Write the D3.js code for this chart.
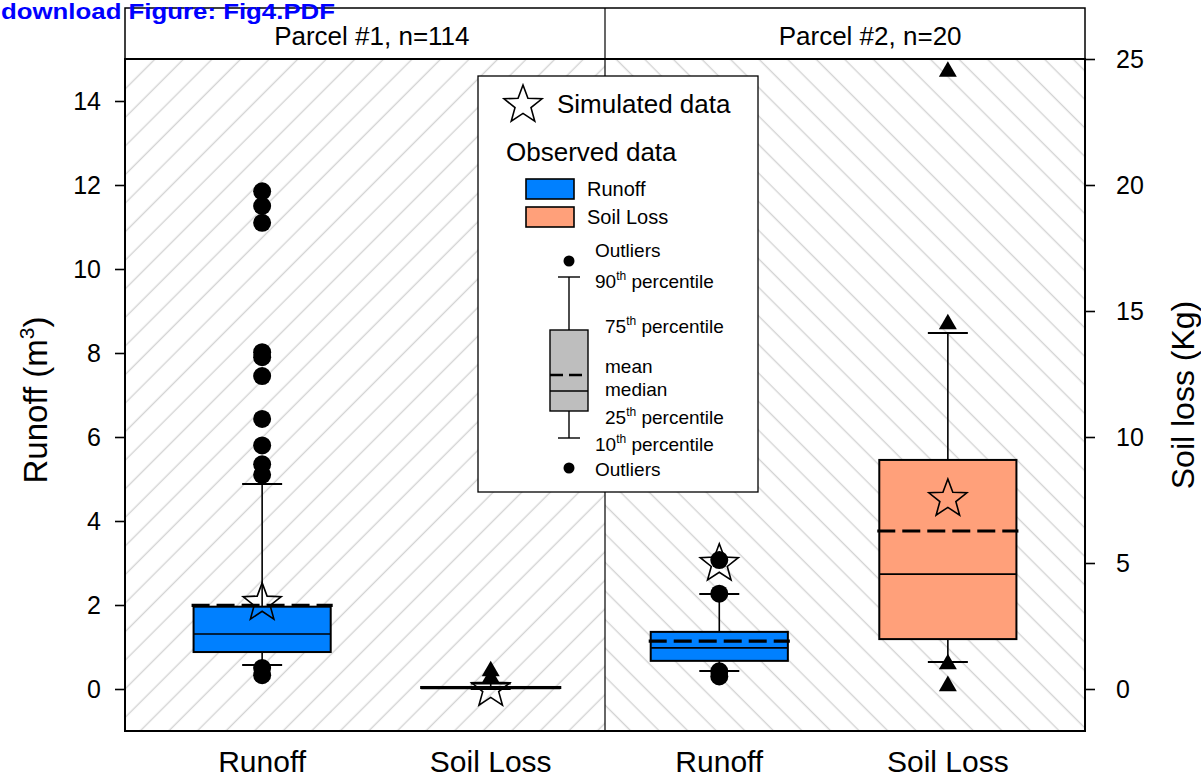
<!DOCTYPE html>
<html>
<head>
<meta charset="utf-8">
<script src="https://cdn.jsdelivr.net/npm/d3@7"></script>
<style>
  body { margin: 0; background: #fff; }
  svg { display: block; }
  text { font-family: "Liberation Sans", Arial, Helvetica, sans-serif; }
</style>
</head>
<body>
<svg id="chart" width="1201" height="778"></svg>
<script>
// ---- data -------------------------------------------------------------
const panelTitles = ["Parcel #1, n=114", "Parcel #2, n=20"];
const categories  = ["Runoff", "Soil Loss", "Runoff", "Soil Loss"];
const groupPanel  = [0, 0, 1, 1];
const groupAxis   = ["left", "right", "left", "right"];   // runoff: m3, soil loss: kg
const groupColors = ["#0080ff", "#ffa07a", "#0080ff", "#ffa07a"];
const groupMarker = ["circle", "triangle", "circle", "triangle"];

const p10     = [0.57, 0.00, 0.43, 1.07];
const q25     = [0.88, 0.03, 0.67, 1.98];
const median  = [1.31, 0.05, 0.98, 4.56];
const mean    = [1.99, 0.06, 1.14, 6.27];
const q75     = [1.96, 0.08, 1.36, 9.09];
const p90     = [4.88, 0.22, 2.26, 14.13];
const simulated = [2.05, 0.0, 2.98, 7.54];
const outliers = [
  [11.85, 11.5, 11.1, 8.02, 7.9, 7.45, 6.43, 5.8, 5.35, 5.1, 0.5, 0.33],
  [0.71, 0.44],
  [3.07, 2.27, 0.42, 0.3],
  [24.5, 14.48, 0.99, 0.12]
];

const leftTicks  = [0, 2, 4, 6, 8, 10, 12, 14];
const rightTicks = [0, 5, 10, 15, 20, 25];

const legendFill = ["Runoff", "Soil Loss"];
const legendBoxLabels = [
  { text: "Outliers", sup: null },
  { text: "90", sup: "th", rest: " percentile" },
  { text: "75", sup: "th", rest: " percentile" },
  { text: "mean", sup: null },
  { text: "median", sup: null },
  { text: "25", sup: "th", rest: " percentile" },
  { text: "10", sup: "th", rest: " percentile" },
  { text: "Outliers", sup: null }
];

// ---- layout -----------------------------------------------------------
const svg = d3.select("#chart");
const plot = { left: 125, right: 1085, top: 59, bottom: 731, stripTop: 8 };

const x  = d3.scaleLinear().domain([0, 4.2]).range([plot.left, plot.right]);
const xPos = [0.6, 1.6, 2.6, 3.6];
const boxW = x(0.6) - x(0);
const capW = 40;
const yL = d3.scaleLinear().domain([-1, 15]).range([plot.bottom, plot.top]);
const yR = d3.scaleLinear().domain([-5 / 3, 25]).range([plot.bottom, plot.top]);
const yOf = i => groupAxis[i] === "left" ? yL : yR;
const xDiv = x(2.1);

// ---- hatch patterns ---------------------------------------------------
const defs = svg.append("defs");
[["hatchA", 45], ["hatchB", -45]].forEach(([id, ang]) => {
  const p = defs.append("pattern")
    .attr("id", id)
    .attr("patternUnits", "userSpaceOnUse")
    .attr("width", 20.2).attr("height", 20.2)
    .attr("patternTransform", `rotate(${ang})`);
  p.append("line")
    .attr("x1", 10).attr("y1", -2).attr("x2", 10).attr("y2", 22.2)
    .attr("stroke", "#d3d3d3").attr("stroke-width", 1.4);
});

svg.append("rect")
  .attr("x", plot.left).attr("y", plot.top)
  .attr("width", xDiv - plot.left).attr("height", plot.bottom - plot.top)
  .attr("fill", "url(#hatchA)");
svg.append("rect")
  .attr("x", xDiv).attr("y", plot.top)
  .attr("width", plot.right - xDiv).attr("height", plot.bottom - plot.top)
  .attr("fill", "url(#hatchB)");

// ---- strip header -----------------------------------------------------
svg.append("rect")
  .attr("x", plot.left).attr("y", plot.stripTop)
  .attr("width", plot.right - plot.left).attr("height", plot.top - plot.stripTop)
  .attr("fill", "#fff").attr("stroke", "#000").attr("stroke-width", 1.5);
const stripCenters = [x(1.08), x(3.26)];
panelTitles.forEach((t, i) => {
  svg.append("text")
    .attr("x", stripCenters[i]).attr("y", 45)
    .attr("text-anchor", "middle")
    .attr("font-size", 26)
    .text(t);
});

// ---- star helper ------------------------------------------------------
function starPath(cx, cy, R, ratio) {
  const pts = d3.range(10).map(k => {
    const a = -Math.PI / 2 + k * Math.PI / 5;
    const r = k % 2 ? R * ratio : R;
    return [cx + r * Math.cos(a), cy + r * Math.sin(a)];
  });
  return "M" + pts.map(p => p.join(",")).join("L") + "Z";
}

// ---- box plots --------------------------------------------------------
const tri = d3.symbol(d3.symbolTriangle, 140);
categories.forEach((cat, i) => {
  const y = yOf(i);
  const cx = x(xPos[i]);
  const g = svg.append("g");

  // whiskers
  g.append("line").attr("x1", cx).attr("x2", cx)
    .attr("y1", y(q75[i])).attr("y2", y(p90[i]))
    .attr("stroke", "#000").attr("stroke-width", 1.6);
  g.append("line").attr("x1", cx).attr("x2", cx)
    .attr("y1", y(q25[i])).attr("y2", y(p10[i]))
    .attr("stroke", "#000").attr("stroke-width", 1.6);
  [p10[i], p90[i]].forEach(v => {
    g.append("line")
      .attr("x1", cx - capW / 2).attr("x2", cx + capW / 2)
      .attr("y1", y(v)).attr("y2", y(v))
      .attr("stroke", "#000").attr("stroke-width", 2);
  });

  // box
  g.append("rect")
    .attr("x", cx - boxW / 2).attr("width", boxW)
    .attr("y", y(q75[i])).attr("height", Math.max(0.5, y(q25[i]) - y(q75[i])))
    .attr("fill", groupColors[i]).attr("stroke", "#000").attr("stroke-width", 2);
  g.append("line")
    .attr("x1", cx - boxW / 2).attr("x2", cx + boxW / 2)
    .attr("y1", y(median[i])).attr("y2", y(median[i]))
    .attr("stroke", "#000").attr("stroke-width", 1.6);
  g.append("line")
    .attr("x1", cx - boxW / 2 - 2).attr("x2", cx + boxW / 2 + 2)
    .attr("y1", y(mean[i])).attr("y2", y(mean[i]))
    .attr("stroke", "#000").attr("stroke-width", 3.2)
    .attr("stroke-dasharray", "18,7");

  // simulated value
  g.append("path")
    .attr("d", starPath(cx, y(simulated[i]), 20, 0.42))
    .attr("fill", "none").attr("stroke", "#000").attr("stroke-width", 1.6);

  // outliers
  outliers[i].forEach(v => {
    if (groupMarker[i] === "circle") {
      g.append("circle").attr("cx", cx).attr("cy", y(v)).attr("r", 9).attr("fill", "#000");
    } else {
      g.append("path").attr("d", tri())
        .attr("transform", `translate(${cx},${y(v)})`).attr("fill", "#000");
    }
  });
});

// ---- frame & axes -----------------------------------------------------
svg.append("rect")
  .attr("x", plot.left).attr("y", plot.top)
  .attr("width", plot.right - plot.left).attr("height", plot.bottom - plot.top)
  .attr("fill", "none").attr("stroke", "#000").attr("stroke-width", 2);
svg.append("line")
  .attr("x1", xDiv).attr("x2", xDiv).attr("y1", plot.stripTop).attr("y2", plot.bottom)
  .attr("stroke", "#000").attr("stroke-width", 1.2);

const axL = svg.append("g")
  .attr("transform", `translate(${plot.left},0)`)
  .call(d3.axisLeft(yL).tickValues(leftTicks).tickSize(10).tickPadding(14).tickFormat(d3.format("d")));
const axR = svg.append("g")
  .attr("transform", `translate(${plot.right},0)`)
  .call(d3.axisRight(yR).tickValues(rightTicks).tickSize(10).tickPadding(21).tickFormat(d3.format("d")));
[axL, axR].forEach(a => {
  a.select(".domain").remove();
  a.selectAll(".tick line").attr("stroke", "#000").attr("stroke-width", 1.6);
  a.selectAll(".tick text")
    .attr("font-family", "Liberation Sans, Arial, sans-serif")
    .attr("font-size", 25).attr("fill", "#000");
});

// category labels
categories.forEach((c, i) => {
  svg.append("text")
    .attr("x", x(xPos[i])).attr("y", 772)
    .attr("text-anchor", "middle").attr("font-size", 30)
    .text(c);
});

// axis titles
const tl = svg.append("text")
  .attr("transform", "translate(47,400) rotate(-90)")
  .attr("text-anchor", "middle").attr("font-size", 33);
tl.append("tspan").text("Runoff (m");
tl.append("tspan").attr("dy", -13).attr("font-size", 21).text("3");
tl.append("tspan").attr("dy", 13).text(")");

svg.append("text")
  .attr("transform", "translate(1194,395) rotate(-90)")
  .attr("text-anchor", "middle").attr("font-size", 32)
  .text("Soil loss (Kg)");

// ---- legend -----------------------------------------------------------
const lg = svg.append("g");
lg.append("rect")
  .attr("x", 478).attr("y", 76).attr("width", 280).attr("height", 416)
  .attr("fill", "#fff").attr("stroke", "#000").attr("stroke-width", 1.3);
lg.append("path").attr("d", starPath(523, 105, 20, 0.42))
  .attr("fill", "none").attr("stroke", "#000").attr("stroke-width", 1.6);
lg.append("text").attr("x", 557).attr("y", 113).attr("font-size", 26).text("Simulated data");
lg.append("text").attr("x", 506).attr("y", 161).attr("font-size", 26).text("Observed data");
legendFill.forEach((t, k) => {
  lg.append("rect")
    .attr("x", 526).attr("y", 179 + k * 28).attr("width", 48).attr("height", 20)
    .attr("fill", groupColors[k]).attr("stroke", "#000").attr("stroke-width", 1.6);
  lg.append("text").attr("x", 587).attr("y", 196 + k * 28).attr("font-size", 20).text(t);
});

// sample box glyph
const lx = 569;
lg.append("circle").attr("cx", lx).attr("cy", 261).attr("r", 5.5).attr("fill", "#000");
lg.append("circle").attr("cx", lx).attr("cy", 468).attr("r", 5.5).attr("fill", "#000");
lg.append("line").attr("x1", lx).attr("x2", lx).attr("y1", 277).attr("y2", 438)
  .attr("stroke", "#000").attr("stroke-width", 1.4);
[277, 438].forEach(v => lg.append("line")
  .attr("x1", lx - 11).attr("x2", lx + 11).attr("y1", v).attr("y2", v)
  .attr("stroke", "#000").attr("stroke-width", 1.4));
lg.append("rect").attr("x", 550).attr("y", 330).attr("width", 38).attr("height", 81)
  .attr("fill", "#bebebe").attr("stroke", "#000").attr("stroke-width", 1.4);
lg.append("line").attr("x1", 550).attr("x2", 588).attr("y1", 391).attr("y2", 391)
  .attr("stroke", "#000").attr("stroke-width", 1.4);
lg.append("line").attr("x1", 550).attr("x2", 588).attr("y1", 375).attr("y2", 375)
  .attr("stroke", "#000").attr("stroke-width", 2.4).attr("stroke-dasharray", "13,6");

const labelPos = [[595, 257], [595, 288], [605, 333], [605, 373], [605, 396], [605, 424], [595, 451], [595, 476]];
legendBoxLabels.forEach((d, k) => {
  const t = lg.append("text").attr("x", labelPos[k][0]).attr("y", labelPos[k][1]).attr("font-size", 19);
  t.append("tspan").text(d.text);
  if (d.sup) {
    t.append("tspan").attr("dy", -8).attr("font-size", 12).text(d.sup);
    t.append("tspan").attr("dy", 8).text(d.rest);
  }
});

// ---- download caption ---------------------------------------------------
svg.append("text")
  .attr("x", 1).attr("y", 19)
  .attr("font-size", 22.5).attr("font-weight", "bold").attr("fill", "#0000ff")
  .attr("textLength", 334).attr("lengthAdjust", "spacingAndGlyphs")
  .text("download Figure: Fig4.PDF");
</script>
</body>
</html>
